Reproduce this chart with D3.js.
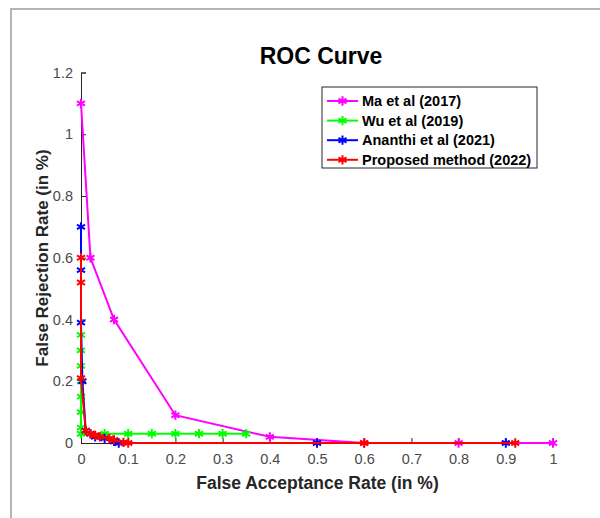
<!DOCTYPE html>
<html>
<head>
<meta charset="utf-8">
<script src="https://cdn.jsdelivr.net/npm/d3@7"></script>
<style>
  body { margin: 0; background: #fff; }
  svg { display: block; font-family: "Liberation Sans", Arial, sans-serif; }
</style>
</head>
<body>
<div id="chart"></div>
<script>
// ROC curve data (FAR, FRR in %)
const maX = [0, 0.02, 0.07, 0.2, 0.4, 0.6, 0.8, 1];
const maY = [1.1, 0.6, 0.4, 0.09, 0.02, 0, 0, 0];

const wuX = [0, 0, 0, 0, 0, 0, 0, 0, 0.05, 0.1, 0.15, 0.2, 0.25, 0.3, 0.35];
const wuY = [0.35, 0.3, 0.25, 0.2, 0.15, 0.1, 0.05, 0.03, 0.03, 0.03, 0.03, 0.03, 0.03, 0.03, 0.03];

const ananthiX = [0, 0, 0, 0.003, 0.01, 0.02, 0.03, 0.05, 0.07, 0.08, 0.5, 0.9];
const ananthiY = [0.7, 0.56, 0.39, 0.2, 0.04, 0.03, 0.02, 0.015, 0.005, 0, 0, 0];

const proposedX = [0, 0, 0, 0.01, 0.02, 0.03, 0.04, 0.06, 0.07, 0.09, 0.1, 0.6, 0.92];
const proposedY = [0.6, 0.52, 0.21, 0.04, 0.03, 0.025, 0.02, 0.015, 0.01, 0.002, 0, 0, 0];

const seriesNames = ["Ma et al (2017)", "Wu et al (2019)", "Ananthi et al (2021)", "Proposed method (2022)"];
const seriesColors = ["#ff00ff", "#00ff00", "#0000ff", "#ff0000"];
const xTicks = [0, 0.1, 0.2, 0.3, 0.4, 0.5, 0.6, 0.7, 0.8, 0.9, 1];
const yTicks = [0, 0.2, 0.4, 0.6, 0.8, 1, 1.2];

const series = [[maX, maY], [wuX, wuY], [ananthiX, ananthiY], [proposedX, proposedY]]
  .map(([xs, ys], i) => ({
    name: seriesNames[i],
    color: seriesColors[i],
    points: xs.map((x, j) => ({ x, y: ys[j] }))
  }));

const W = 600, H = 518;
const margin = { top: 72.5, right: 47, bottom: 75, left: 81 };
const width = W - margin.left - margin.right;
const height = H - margin.top - margin.bottom;

const svg = d3.select("#chart").append("svg")
  .attr("width", W)
  .attr("height", H);

// figure frame (gray, partially cut off)
svg.append("path")
  .attr("d", `M11,${H + 5} L11,9 L${W + 5},9`)
  .attr("fill", "none")
  .attr("stroke", "#b4b4b4")
  .attr("stroke-width", 2);

const g = svg.append("g")
  .attr("transform", `translate(${margin.left},${margin.top})`);

const x = d3.scaleLinear().domain([0, 1]).range([0, width]);
const y = d3.scaleLinear().domain([0, 1.2]).range([height, 0]);

// axes with inward ticks (MATLAB style)
const xAxis = g.append("g")
  .attr("transform", `translate(0,${height})`)
  .call(d3.axisBottom(x).tickValues(xTicks).tickSize(-5).tickPadding(11).tickFormat(d3.format("~g")));
const yAxis = g.append("g")
  .call(d3.axisLeft(y).tickValues(yTicks).tickSize(-5).tickPadding(8).tickFormat(d3.format("~g")));

[xAxis, yAxis].forEach(ax => {
  ax.select(".domain").attr("stroke", "#262626").attr("stroke-width", 1);
  ax.selectAll(".tick line").attr("stroke", "#262626");
  ax.selectAll(".tick text").attr("fill", "#4a4a4a").style("font-size", "14.5px");
});

// lines and markers
const line = d3.line().x(d => x(d.x)).y(d => y(d.y));
const star = d3.symbol().type(d3.symbolAsterisk).size(60);

series.forEach(s => {
  g.append("path")
    .datum(s.points)
    .attr("fill", "none")
    .attr("stroke", s.color)
    .attr("stroke-width", 2)
    .attr("d", line);
  g.selectAll(null)
    .data(s.points)
    .enter().append("path")
    .attr("transform", d => `translate(${x(d.x)},${y(d.y)})`)
    .attr("d", star)
    .attr("fill", "none")
    .attr("stroke", s.color)
    .attr("stroke-width", 2);
});

// title and axis labels
svg.append("text")
  .attr("x", 321).attr("y", 64)
  .attr("text-anchor", "middle")
  .style("font-size", "23px").style("font-weight", "bold")
  .text("ROC Curve");

svg.append("text")
  .attr("x", 317.5).attr("y", 489)
  .attr("text-anchor", "middle")
  .attr("fill", "#262626")
  .style("font-size", "17.5px").style("font-weight", "bold")
  .text("False Acceptance Rate (in %)");

svg.append("text")
  .attr("transform", `translate(48,${258}) rotate(-90)`)
  .attr("text-anchor", "middle")
  .attr("fill", "#262626")
  .style("font-size", "17px").style("font-weight", "bold")
  .text("False Rejection Rate (in %)");

// legend
const legend = svg.append("g").attr("transform", "translate(322,87)");
legend.append("rect")
  .attr("width", 215).attr("height", 81)
  .attr("fill", "#fff")
  .attr("stroke", "#262626").attr("stroke-width", 1);

series.forEach((s, i) => {
  const ly = 14 + i * 19.6;
  const item = legend.append("g").attr("transform", `translate(0,${ly})`);
  item.append("line")
    .attr("x1", 5).attr("x2", 36)
    .attr("stroke", s.color).attr("stroke-width", 2);
  item.append("path")
    .attr("transform", "translate(20.5,0)")
    .attr("d", star)
    .attr("fill", "none")
    .attr("stroke", s.color).attr("stroke-width", 2);
  item.append("text")
    .attr("x", 40).attr("y", 5)
    .style("font-size", "14.5px").style("font-weight", "bold")
    .text(s.name);
});
</script>
</body>
</html>
